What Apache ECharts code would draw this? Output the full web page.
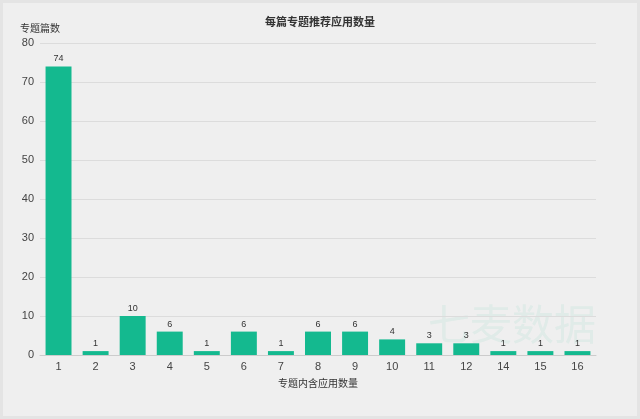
<!DOCTYPE html>
<html><head><meta charset="utf-8">
<script src="https://cdn.jsdelivr.net/npm/echarts@6/dist/echarts.min.js"></script>
<style>
html,body{margin:0;padding:0;background:#e4e4e4;}
#c{position:absolute;left:3px;top:3px;width:634px;height:413px;background:#efefef;}
</style></head><body>
<div id="c"></div>
<script>
const categories = ['1','2','3','4','5','6','7','8','9','10','11','12','14','15','16'];
const values = [74,1,10,6,1,6,1,6,6,4,3,3,1,1,1];
const yTicks = {min:0, max:80, interval:10};

const chart = echarts.init(document.getElementById('c'));
chart.setOption({
  backgroundColor:'#efefef',
  title:{text:'每篇专题推荐应用数量', left:'center', top:8,
    textStyle:{fontSize:11, fontWeight:'bold', color:'#333', fontFamily:'Noto Sans CJK SC'}},
  graphic:[{type:'text', left:425, top:300, silent:true,
    style:{text:'七麦数据', fontSize:42, fill:'rgba(22,184,143,0.07)', fontFamily:'Noto Sans CJK SC'}}],
  grid:{left:37, right:41, top:40, bottom:61},
  xAxis:{type:'category', data:categories, name:'专题内含应用数量', nameLocation:'middle', nameGap:23,
    nameTextStyle:{fontSize:10, color:'#333', fontFamily:'Noto Sans CJK SC'},
    axisLine:{lineStyle:{color:'#ccc'}}, axisTick:{lineStyle:{color:'#ccc'}},
    axisLabel:{fontSize:11, color:'#444', margin:6}},
  yAxis:{type:'value', min:yTicks.min, max:yTicks.max, interval:yTicks.interval,
    name:'专题篇数', nameGap:10, nameTextStyle:{fontSize:10, color:'#333', align:'right', padding:[0,-20,0,0], fontFamily:'Noto Sans CJK SC'},
    axisLine:{show:false}, axisTick:{show:false},
    axisLabel:{fontSize:11, color:'#444', margin:6}},
  series:[{type:'bar', data:values, barWidth:'70%',
    itemStyle:{color:'#14b98f'},
    label:{show:true, position:'top', fontSize:9, color:'#333', distance:3}}]
});
chart.setOption({yAxis:{splitLine:{lineStyle:{color:'#dcdcdc'}}}});
</script></body></html>
